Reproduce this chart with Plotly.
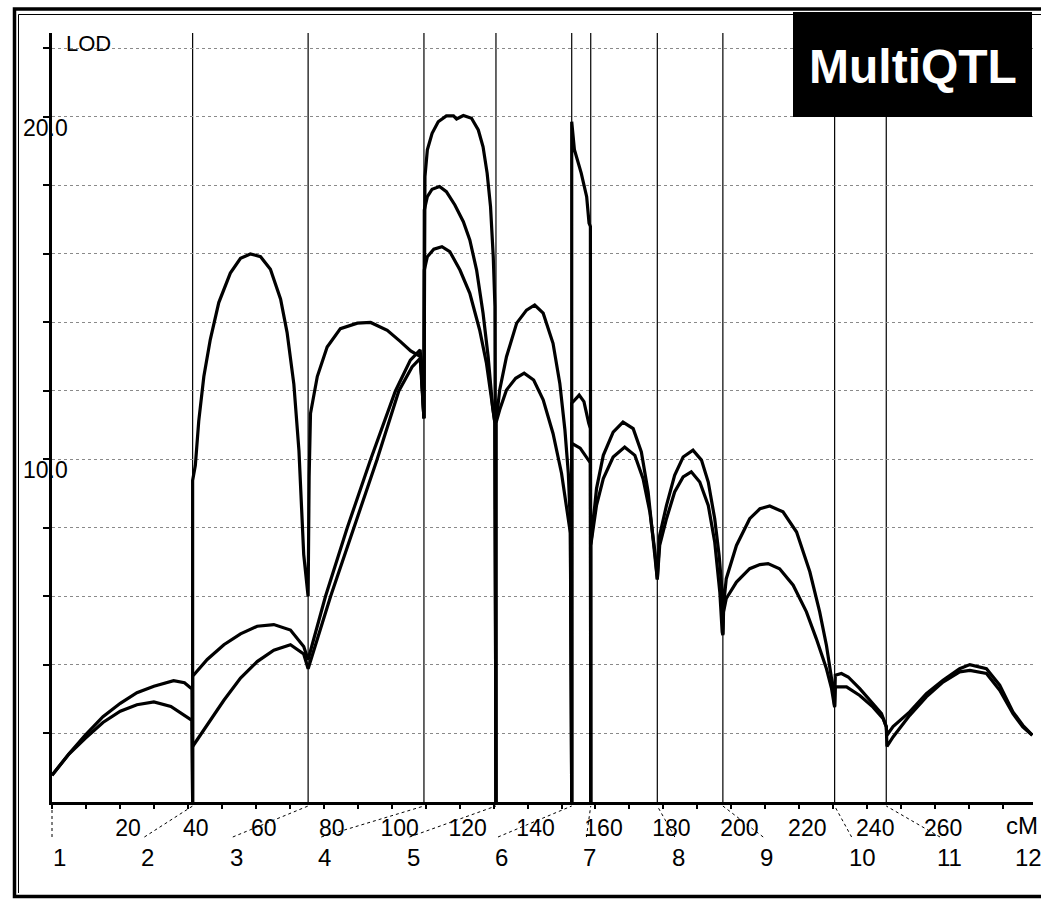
import plotly.graph_objects as go

# ---------------- data ----------------
marker_cm = [0, 41.4, 75.4, 109.5, 130.7, 153.0, 158.6, 178.2, 197.5, 230.4, 245.6, 288.8]
marker_labels = ["1", "2", "3", "4", "5", "6", "7", "8", "9", "10", "11", "12"]

cm_tick_vals = [0, 10, 20, 30, 40, 50, 60, 70, 80, 90, 100, 110, 120, 130, 140,
                150, 160, 170, 180, 190, 200, 210, 220, 230, 240, 250, 260, 270, 280]
cm_tick_text = ["", "", "20", "", "40", "", "60", "", "80", "", "100", "", "120", "", "140",
                "", "160", "", "180", "", "200", "", "220", "", "240", "", "260", "", ""]
lod_tick_vals = [2, 4, 6, 8, 10, 12, 14, 16, 18, 20, 22]
lod_label_vals = [10, 20]
lod_label_text = ["10.0", "20.0"]

# curve 1 (upper profile)
curve1_cm = [0, 5, 9.8, 15, 20.1, 25, 30, 35.8, 39, 41.2, 41.4,
             41.4, 42.2, 43.2, 44.7, 46.6, 49.1, 52.5, 55.5, 58.4, 61.4, 64.3, 67.3, 69.2, 71.2, 72.7, 74.1, 75.4,
             75.7, 76.1, 78.1, 81.0, 84.9, 89.9, 93.8, 98.7, 102.6, 105.6, 108.5, 109.5,
             109.8, 110.5, 111.9, 113.7, 116.1, 118.2, 119.1, 121.1, 123.5, 125.5, 126.9, 128.1, 129.1, 129.9, 130.4, 130.7,
             130.7, 131.8, 133.8, 136.8, 139.7, 142.1, 144.6, 147.5, 149.5, 151.0, 152.0, 152.6, 153.0,
             153.0, 153.8, 155.8, 157.4, 158.1, 158.5, 158.6,
             158.6, 160.3, 162.3, 165.2, 168.1, 171.1, 173.5, 175.5, 177.0, 178.2,
             178.9, 180.9, 183.3, 185.8, 188.7, 191.2, 193.2, 195.1, 196.4, 197.3, 197.5,
             197.7, 198.5, 201.5, 205.4, 208.4, 211.3, 215.2, 219.2, 223.1, 226.0, 228.0, 229.5, 230.4,
             230.6, 232.4, 234.4, 237.8, 241.7, 244.2, 245.6,
             245.8, 247.6, 252.5, 257.4, 262.3, 267.2, 270.2, 275.1, 279.0, 282.9, 285.8, 288.6]
curve1_lod = [0.78, 1.41, 1.95, 2.49, 2.88, 3.19, 3.38, 3.54, 3.48, 3.30, 0,
              9.39, 9.83, 11.12, 12.42, 13.5, 14.58, 15.44, 15.87, 16.0, 15.92, 15.55, 14.68, 13.71, 12.2, 10.26, 7.23, 6.0,
              9.5, 11.34, 12.42, 13.28, 13.82, 13.98, 14.0, 13.77, 13.44, 13.17, 13.0, 11.2,
              18.26, 19.04, 19.52, 19.86, 20.03, 20.03, 19.94, 20.04, 19.96, 19.62, 19.13, 18.36, 17.38, 15.92, 14.46, 0,
              11.06, 12.03, 13.0, 13.98, 14.36, 14.51, 14.27, 13.39, 12.22, 10.86, 9.6, 8.14, 0,
              19.86, 19.04, 18.36, 17.67, 16.9, 16.8, 0,
              7.49, 9.15, 10.12, 10.8, 11.09, 10.9, 10.22, 9.05, 7.69, 6.5,
              7.79, 8.66, 9.54, 10.07, 10.27, 9.98, 9.34, 8.27, 7.2, 6.13, 4.9,
              5.74, 6.52, 7.49, 8.27, 8.56, 8.64, 8.47, 7.88, 6.72, 5.55, 4.57, 3.6, 2.8,
              3.7, 3.75, 3.65, 3.31, 2.87, 2.58, 2.2,
              1.95, 2.2, 2.63, 3.16, 3.55, 3.89, 4.01, 3.89, 3.41, 2.63, 2.24, 1.95]

# curve 2 (middle profile)
curve2_cm = [0, 5, 9.8, 15, 20.1, 25, 30, 35, 41.2, 41.4,
             41.4, 45.7, 50.6, 55.5, 60.4, 65.3, 70.2, 74.1, 75.4,
             80.5, 86.9, 93.8, 101.1, 105.5, 108.4, 109.5,
             109.6, 110.5, 111.9, 114.1, 116.1, 118.6, 121.1, 123.0, 125.0, 126.9, 128.4, 129.7, 130.4, 130.7,
             130.7, 131.8, 133.8, 136.5, 139.0, 141.8, 144.6, 147.5, 150.0, 151.4, 152.6, 153.0,
             153.0, 155.2, 156.6, 158.0, 158.5, 158.6,
             158.6, 160.3, 162.3, 165.2, 168.6, 171.6, 174.0, 176.0, 177.5, 178.2,
             178.9, 180.9, 183.3, 185.8, 188.2, 190.7, 193.2, 195.1, 196.6, 197.3, 197.5,
             197.7, 198.5, 201.5, 205.4, 208.4, 210.8, 214.2, 218.2, 222.1, 225.0, 228.0, 229.5, 230.4,
             230.6, 233.9, 237.8, 241.7, 244.7, 245.6,
             245.8, 247.6, 252.5, 257.4, 262.3, 267.2, 270.2, 275.1, 279.0, 282.9, 285.8, 288.6]
curve2_lod = [0.78, 1.40, 1.86, 2.32, 2.65, 2.84, 2.92, 2.79, 2.38, 0,
              3.67, 4.16, 4.59, 4.91, 5.13, 5.18, 5.02, 4.54, 4.16,
              6.0, 8.0, 10.0, 12.0, 12.9, 13.2, 11.2,
              17.28, 17.67, 17.89, 17.97, 17.82, 17.43, 16.94, 16.41, 15.53, 14.27, 13.0, 11.54, 11.06, 0,
              11.06, 11.45, 12.03, 12.37, 12.52, 12.32, 11.74, 10.76, 9.6, 8.62, 7.85, 0,
              11.64, 11.88, 11.69, 11.06, 10.9, 0,
              7.49, 8.66, 9.44, 10.07, 10.36, 10.12, 9.44, 8.47, 7.3, 6.5,
              7.49, 8.27, 9.05, 9.49, 9.64, 9.34, 8.66, 7.59, 6.13, 4.96, 4.87,
              5.55, 5.94, 6.42, 6.81, 6.93, 6.96, 6.81, 6.33, 5.55, 4.77, 3.89, 3.31, 2.77,
              3.36, 3.36, 3.11, 2.77, 2.43, 2.2,
              1.62, 1.9, 2.53, 3.07, 3.5, 3.8, 3.84, 3.75, 3.26, 2.58, 2.19, 1.95]

# curve 3 (lower profile, markers 2-7)
curve3_cm = [41.4, 45.7, 50.6, 55.5, 60.4, 65.3, 70.2, 74.1, 75.4,
             82.0, 88.9, 95.7, 102.1, 106.0, 108.4, 109.5,
             109.6, 110.5, 112.4, 114.8, 117.1, 120.1, 123.0, 125.9, 127.9, 129.3, 130.4, 130.7,
             None,
             153.0, 153.0, 155.5, 158.0, 158.5, 158.6]
curve3_lod = [1.62, 2.27, 2.97, 3.62, 4.1, 4.43, 4.59, 4.32, 3.89,
              6.0, 8.0, 10.0, 12.0, 12.7, 12.95, 11.2,
              15.53, 15.92, 16.14, 16.21, 16.07, 15.53, 14.85, 13.78, 12.81, 11.74, 11.06, 0,
              None,
              0, 10.47, 10.33, 9.99, 9.9, 0]

# ---------------- layout geometry (pixels) ----------------
W, H = 1041, 901
PL, PR, PT, PB = 52, 1033, 33, 802       # plot-area edges in px
XMAX = 288.8
YMAX = 22.45
FONT = "Liberation Sans, Arial, sans-serif"


def px_x(px):
    return (px - PL) / (PR - PL)


def px_y(py):
    return (PB - py) / (PB - PT)


def cm_to_px(cm):
    return PL + cm / XMAX * (PR - PL)


fig = go.Figure()
for xs, ys in [(curve1_cm, curve1_lod), (curve2_cm, curve2_lod), (curve3_cm, curve3_lod)]:
    fig.add_trace(go.Scatter(x=xs, y=ys, mode="lines", connectgaps=False,
                             line=dict(color="black", width=3.2), showlegend=False,
                             hoverinfo="skip"))

shapes = []
# marker vertical lines
for cm in marker_cm[1:-1]:
    shapes.append(dict(type="line", xref="x", yref="paper", x0=cm, x1=cm, y0=0, y1=1,
                       line=dict(color="black", width=1.2), layer="below"))

# leader lines from marker numbers to marker positions
label_left_px = [min(51 + 88.4 * i, 1013) for i in range(len(marker_labels))]
for i, cm in enumerate(marker_cm[:-1]):
    start = label_left_px[i] + 5 if i > 0 else cm_to_px(cm)
    shapes.append(dict(type="line", xref="paper", yref="paper",
                       x0=px_x(start), y0=px_y(837), x1=px_x(cm_to_px(cm)), y1=px_y(806),
                       line=dict(color="black", width=1, dash="dot")))

# outer double frame
shapes.append(dict(type="rect", xref="paper", yref="paper",
                   x0=px_x(14.5), y0=px_y(896.5), x1=px_x(1070), y1=px_y(9),
                   line=dict(color="black", width=3.5)))
shapes.append(dict(type="line", xref="paper", yref="paper",
                   x0=px_x(18.5), y0=px_y(893), x1=px_x(18.5), y1=px_y(14.5),
                   line=dict(color="black", width=1)))
shapes.append(dict(type="line", xref="paper", yref="paper",
                   x0=px_x(18.5), y0=px_y(14.5), x1=px_x(1041), y1=px_y(14.5),
                   line=dict(color="black", width=1)))
# logo box
shapes.append(dict(type="rect", xref="paper", yref="paper",
                   x0=px_x(793), y0=px_y(117), x1=px_x(1032), y1=px_y(12),
                   fillcolor="black", line=dict(color="black", width=0)))

annotations = []
annotations.append(dict(text="MultiQTL", xref="paper", yref="paper", x=px_x(913), y=px_y(66),
                        xanchor="center", yanchor="middle", showarrow=False,
                        font=dict(family="Liberation Sans, Arial, sans-serif",
                                  size=48, color="white", weight="bold")))
annotations.append(dict(text="LOD", xref="paper", yref="paper", x=px_x(64), y=px_y(43),
                        xanchor="left", yanchor="middle", showarrow=False,
                        font=dict(family=FONT, size=22, color="black")))
for v, t in zip(lod_label_vals, lod_label_text):
    annotations.append(dict(text=t, xref="paper", yref="y", x=px_x(21), y=v, yshift=-11,
                            xanchor="left", yanchor="middle", showarrow=False,
                            font=dict(family=FONT, size=23, color="black")))
annotations.append(dict(text="cM", xref="paper", yref="paper", x=px_x(1040), y=px_y(825),
                        xanchor="right", yanchor="middle", showarrow=False,
                        font=dict(family=FONT, size=24, color="black")))
for i, lab in enumerate(marker_labels):
    annotations.append(dict(text=lab, xref="paper", yref="paper", x=px_x(label_left_px[i]), y=px_y(857),
                            xanchor="left", yanchor="middle", showarrow=False,
                            font=dict(family=FONT, size=24, color="black")))

fig.update_layout(
    width=W, height=H,
    margin=dict(l=PL, r=W - PR, t=PT, b=H - PB, pad=0),
    paper_bgcolor="white", plot_bgcolor="white",
    showlegend=False,
    shapes=shapes, annotations=annotations,
    xaxis=dict(range=[0, XMAX], showline=True, linecolor="black", linewidth=2.5,
               tickvals=cm_tick_vals, ticktext=cm_tick_text, ticks="outside", ticklen=4,
               tickwidth=1.5, tickcolor="black", showgrid=False, zeroline=False,
               tickfont=dict(family=FONT, size=23, color="black"),
               ticklabelshift=8),
    yaxis=dict(range=[0, YMAX], showline=True, linecolor="black", linewidth=2.5,
               tickvals=lod_tick_vals, showticklabels=False, ticks="outside", ticklen=6,
               tickwidth=1.5, tickcolor="black",
               showgrid=True, gridcolor="#8a8a8a", gridwidth=1, griddash="dot", zeroline=False),
)

fig.write_html("out.html", config={"displayModeBar": False},
               post_script="document.body.style.margin='0px';")
